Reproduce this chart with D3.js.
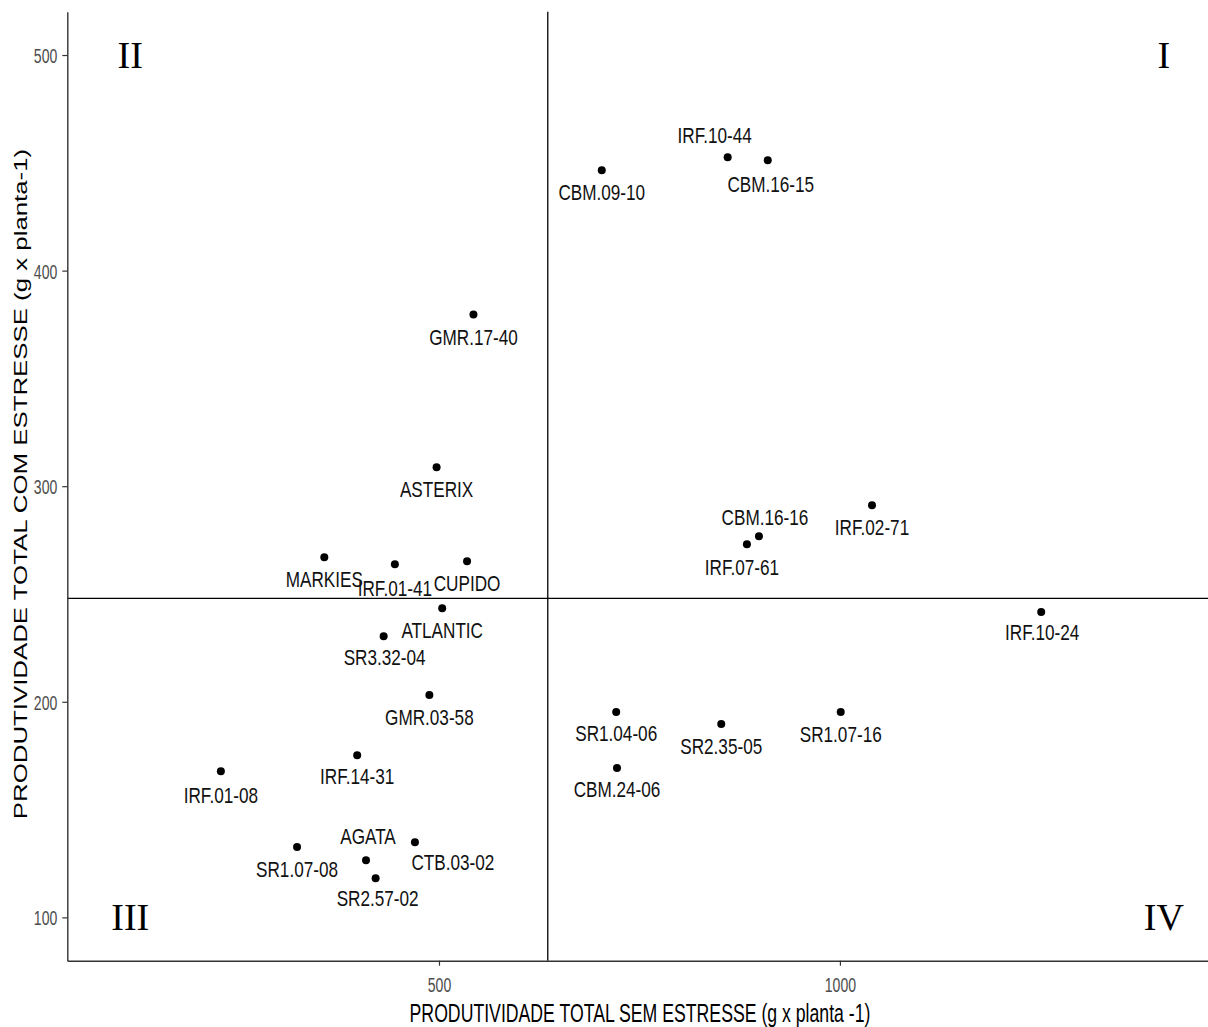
<!DOCTYPE html>
<html>
<head>
<meta charset="utf-8">
<script src="https://cdn.jsdelivr.net/npm/d3@7"></script>
<style>
  html, body { margin: 0; padding: 0; background: #ffffff; }
  svg { display: block; }
</style>
</head>
<body>
<svg id="chart" width="1208" height="1027"></svg>
<script>
// Genotypes: total yield without stress (x) and with stress (y), g per plant
const genotypes = ["IRF.10-44", "CBM.16-15", "CBM.09-10", "GMR.17-40", "ASTERIX",
  "CBM.16-16", "IRF.07-61", "IRF.02-71", "MARKIES", "IRF.01-41", "CUPIDO",
  "ATLANTIC", "SR3.32-04", "IRF.10-24", "GMR.03-58", "SR1.04-06", "SR2.35-05",
  "SR1.07-16", "CBM.24-06", "IRF.14-31", "IRF.01-08", "SR1.07-08", "AGATA",
  "CTB.03-02", "SR2.57-02"];
const yieldNoStress = [860, 910, 703, 543, 497,
  899, 884, 1040, 357, 445, 535,
  504, 431, 1251, 488, 721, 852,
  1001, 722, 398, 228, 323, 409,
  470, 421];
const yieldStress = [452.6, 451.2, 446.6, 379.6, 308.8,
  276.8, 273.1, 291.2, 267.1, 263.8, 265.2,
  243.4, 230.4, 241.7, 203.1, 195.3, 189.7,
  195.3, 169.3, 175.2, 167.8, 132.6, 126.5,
  134.9, 118.2];

// Axis ticks
const xTicks = [500, 1000];
const yTicks = [100, 200, 300, 400, 500];

// Quadrant labels
const quadrantNames = ["I", "II", "III", "IV"];
const quadrantX = [1404, 115, 115, 1404];
const quadrantY = [500, 500, 100, 100];

// Label placement (pixel offsets of the text baseline from the point)
const defaultNudge = [0, 30];
const labelNudge = {
  "IRF.10-44": [-13, -14],
  "CBM.16-15": [3, 32],
  "CBM.16-16": [6, -11],
  "IRF.07-61": [-5, 31],
  "IRF.01-41": [0, 32],
  "IRF.01-08": [0, 32],
  "SR3.32-04": [1, 29],
  "IRF.10-24": [1, 28],
  "CBM.24-06": [0, 29],
  "SR1.04-06": [0, 29],
  "IRF.14-31": [0, 29],
  "AGATA": [2, -16],
  "CTB.03-02": [38, 28],
  "SR2.57-02": [2, 28]
};

const points = genotypes.map((g, i) => ({ name: g, x: yieldNoStress[i], y: yieldStress[i] }));

const svg = d3.select("#chart");
svg.append("rect").attr("width", 1208).attr("height", 1027).attr("fill", "#ffffff");

const x = d3.scaleLinear().domain([36.5, 1459]).range([67.3, 1208]);
const y = d3.scaleLinear().domain([79.9, 520.1]).range([960.7, 11.7]);

const SANS = "'Liberation Sans', Arial, sans-serif";

// Reference lines at the means
const meanX = d3.mean(yieldNoStress);
const meanY = d3.mean(yieldStress);
svg.append("line")
  .attr("x1", x(meanX)).attr("x2", x(meanX))
  .attr("y1", y.range()[1]).attr("y2", y.range()[0])
  .attr("stroke", "#000").attr("stroke-width", 1.3);
svg.append("line")
  .attr("x1", x.range()[0]).attr("x2", x.range()[1])
  .attr("y1", y(meanY)).attr("y2", y(meanY))
  .attr("stroke", "#000").attr("stroke-width", 1.3);

// Axes
const xAxis = svg.append("g")
  .attr("transform", `translate(0,${y.range()[0]})`)
  .call(d3.axisBottom(x).tickValues(xTicks).tickSize(5).tickSizeOuter(0).tickFormat(d3.format("d")));
const yAxis = svg.append("g")
  .attr("transform", `translate(${x.range()[0]},0)`)
  .call(d3.axisLeft(y).tickValues(yTicks).tickSize(5).tickSizeOuter(0).tickFormat(d3.format("d")));

[xAxis, yAxis].forEach(a => {
  a.select(".domain").attr("stroke", "#333333").attr("stroke-width", 1.4);
  a.selectAll(".tick line").attr("stroke", "#333333").attr("stroke-width", 1.2);
  a.selectAll(".tick text")
    .attr("fill", "#4d4d4d")
    .style("font-family", SANS)
    .style("font-size", "21px");
});
const tickSqueeze = 0.67;
xAxis.selectAll(".tick text")
  .attr("y", 31).attr("dy", 0)
  .attr("transform", `scale(${tickSqueeze},1)`);
yAxis.selectAll(".tick text")
  .attr("x", -10 / tickSqueeze).attr("dy", 0).attr("y", 7.5)
  .attr("transform", `scale(${tickSqueeze},1)`);

// Axis titles
svg.append("g")
  .attr("transform", "translate(640,1022) scale(0.68,1)")
  .append("text")
  .attr("text-anchor", "middle")
  .style("font-family", SANS).style("font-size", "26px")
  .attr("fill", "#000")
  .text("PRODUTIVIDADE TOTAL SEM ESTRESSE (g x planta -1)");

svg.append("g")
  .attr("transform", "translate(27,484) rotate(-90) scale(1.36,1)")
  .append("text")
  .attr("text-anchor", "middle")
  .style("font-family", SANS).style("font-size", "19px")
  .attr("fill", "#000")
  .text("PRODUTIVIDADE TOTAL COM ESTRESSE (g x planta-1)");

// Points
svg.append("g").selectAll("circle")
  .data(points)
  .join("circle")
  .attr("cx", d => x(d.x))
  .attr("cy", d => y(d.y))
  .attr("r", 4)
  .attr("fill", "#000");

// Point labels
const labelSqueeze = 0.78;
svg.append("g").selectAll("g")
  .data(points)
  .join("g")
  .attr("transform", d => {
    const n = labelNudge[d.name] || defaultNudge;
    return `translate(${x(d.x) + n[0]},${y(d.y) + n[1]}) scale(${labelSqueeze},1)`;
  })
  .append("text")
  .attr("text-anchor", "middle")
  .style("font-family", SANS).style("font-size", "22px")
  .attr("fill", "#111")
  .text(d => d.name);

// Quadrant numerals
svg.append("g").selectAll("text")
  .data(quadrantNames)
  .join("text")
  .attr("x", (d, i) => x(quadrantX[i]))
  .attr("y", (d, i) => y(quadrantY[i]))
  .attr("dy", "0.33em")
  .attr("text-anchor", "middle")
  .style("font-family", "'Liberation Serif', 'Times New Roman', serif")
  .style("font-size", "38px")
  .attr("fill", "#000")
  .text(d => d);
</script>
</body>
</html>
